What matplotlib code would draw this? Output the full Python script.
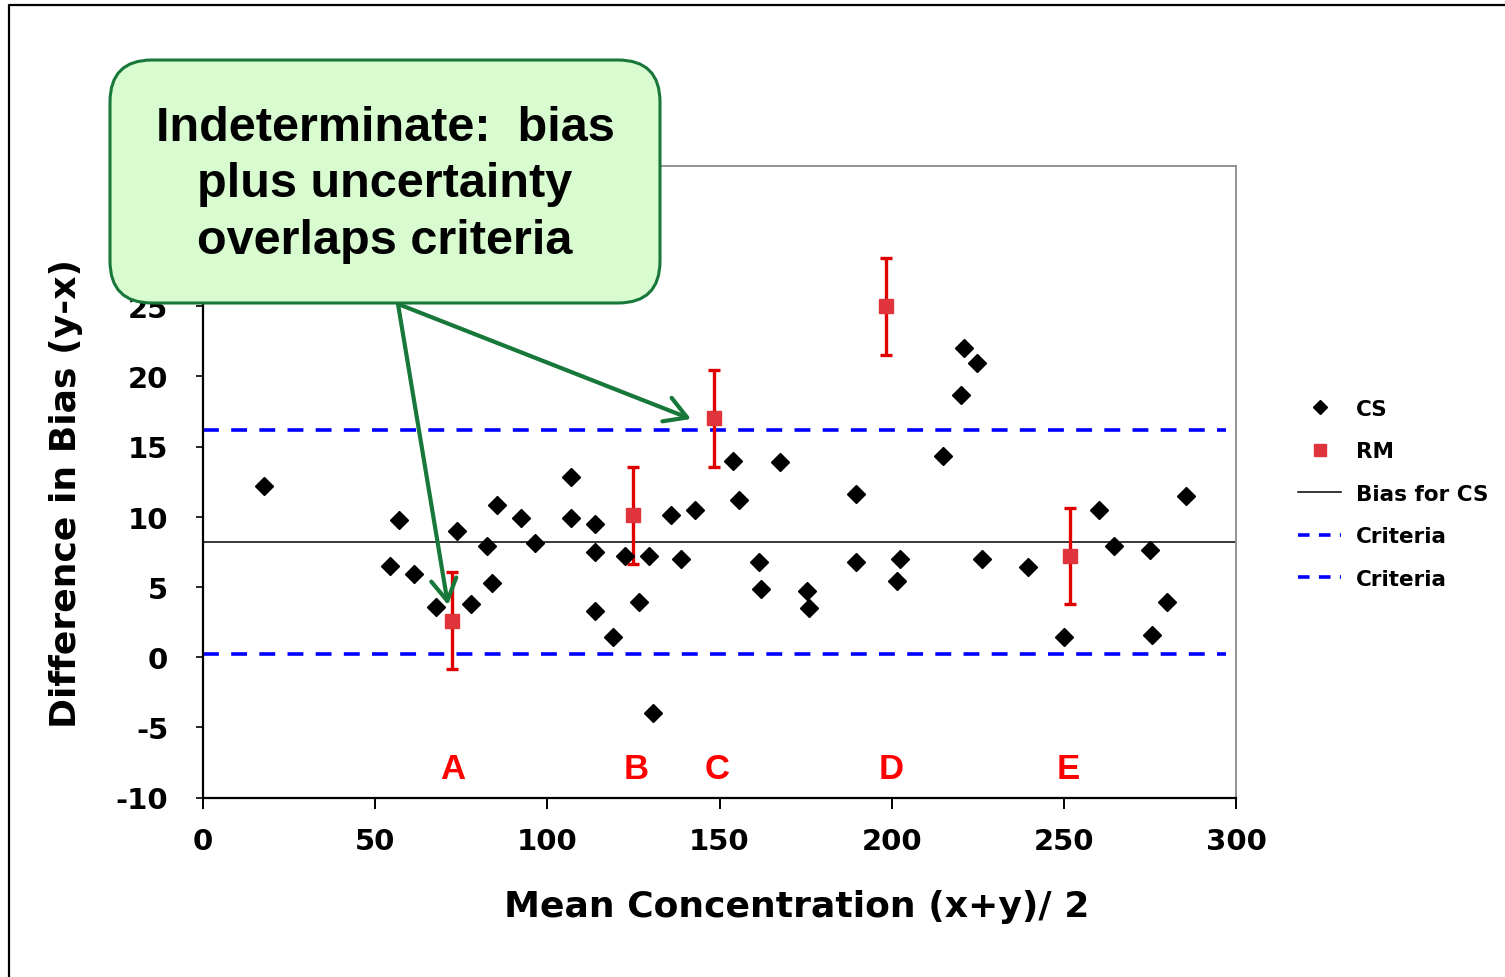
import matplotlib
matplotlib.use("Agg")
import matplotlib.pyplot as plt
from matplotlib import font_manager
from matplotlib.patches import FancyBboxPatch, FancyArrowPatch
from matplotlib.lines import Line2D
import matplotlib.transforms as mtransforms

# ---------------- data ----------------
cs_x = [17.7, 54.3, 57.0, 61.3, 67.7, 73.9, 77.9, 82.6, 83.9, 85.5,
        92.4, 96.5, 107.0, 107.0, 113.9, 113.9, 113.9, 119.0, 122.7, 126.5,
        129.5, 130.6, 135.8, 138.7, 142.8, 153.8, 155.7, 161.6, 162.0, 167.6,
        175.3, 175.9, 189.7, 189.7, 201.5, 202.4, 214.8, 220.1, 221.0, 224.7,
        226.3, 239.7, 250.0, 260.3, 264.5, 275.0, 275.5, 280.1, 285.4]
cs_y = [12.2, 6.5, 9.8, 5.9, 3.6, 9.0, 3.8, 7.9, 5.3, 10.8,
        9.9, 8.1, 12.8, 9.9, 9.5, 7.5, 3.3, 1.45, 7.2, 3.95,
        7.2, -3.95, 10.1, 7.0, 10.5, 14.0, 11.2, 6.8, 4.85, 13.9,
        4.7, 3.5, 11.6, 6.8, 5.4, 7.0, 14.3, 18.7, 22.0, 20.95,
        7.0, 6.4, 1.4, 10.5, 7.9, 7.6, 1.6, 3.95, 11.5]

rm_x = [72.3, 124.9, 148.4, 198.4, 251.8]
rm_y = [2.6, 10.1, 17.0, 25.0, 7.2]
rm_err = [3.45, 3.45, 3.45, 3.45, 3.45]

point_labels = ["A", "B", "C", "D", "E"]
point_label_x = [72.5, 125.8, 149.3, 199.8, 251.2]
point_label_y = -7.9

bias_cs = 8.2
criteria_low = 0.2
criteria_high = 16.2

x_ticks = [0, 50, 100, 150, 200, 250, 300]
y_ticks = [-10, -5, 0, 5, 10, 15, 20, 25, 30, 35]

legend_labels = ["CS", "RM", "Bias for CS", "Criteria", "Criteria"]
x_label = "Mean Concentration (x+y)/ 2"
y_label = "Difference in Bias (y-x)"
callout_text = "Indeterminate:  bias\nplus uncertainty\noverlaps criteria"

# ---------------- fonts ----------------
available = {f.name for f in font_manager.fontManager.ttflist}
callout_font = "Liberation Sans Narrow" if "Liberation Sans Narrow" in available else "Liberation Sans"
main_font = "DejaVu Sans"

# ---------------- figure ----------------
W, H = 1505, 978
fig = plt.figure(figsize=(W / 100, H / 100), dpi=100)
px = mtransforms.Affine2D().scale(1, -1).translate(0, H)  # image pixel coords (y down)

ax_left, ax_right, ax_top, ax_bottom = 203, 1236, 166.7, 798.5
ax = fig.add_axes([ax_left / W, (H - ax_bottom) / H,
                   (ax_right - ax_left) / W, (ax_bottom - ax_top) / H])

ax.set_xlim(0, 300)
ax.set_ylim(-10, 35)

# criteria and bias lines
ax.plot([0, 297], [criteria_high, criteria_high], color="#0000ff", lw=2.6,
        linestyle=(0, (4.4, 3.4)), zorder=2)
ax.plot([0, 297], [criteria_low, criteria_low], color="#0000ff", lw=2.6,
        linestyle=(0, (4.4, 3.4)), zorder=2)
ax.axhline(bias_cs, color="black", lw=1.1, zorder=2)

# CS points
ax.plot(cs_x, cs_y, linestyle="none", marker="D", markersize=9.6,
        color="black", zorder=4)

# RM points with error bars
ax.errorbar(rm_x, rm_y, yerr=rm_err, fmt="none", ecolor="#e00000",
            elinewidth=2.4, capsize=4.6, capthick=2.4, zorder=3)
ax.plot(rm_x, rm_y, linestyle="none", marker="s", markersize=10,
        color="#e0333b", zorder=5)

for lab, lx in zip(point_labels, point_label_x):
    ax.text(lx, point_label_y, lab, color="#ff0000", fontsize=25,
            fontweight="bold", family="Liberation Sans",
            ha="center", va="center", zorder=5)

# axes styling
ax.set_xticks(x_ticks)
ax.set_yticks(y_ticks)
ax.set_xticklabels([str(v) for v in x_ticks], fontsize=21, fontweight="bold",
                   family=main_font)
ax.set_yticklabels([str(v) for v in y_ticks], fontsize=21, fontweight="bold",
                   family=main_font)
# ticks 30 and 35 lie under the callout box in the reference
for v, lbl in zip(y_ticks, ax.get_yticklabels()):
    if v > 25:
        lbl.set_visible(False)
ax.tick_params(axis="x", direction="out", length=8, width=1.4, pad=13)
ax.tick_params(axis="y", direction="out", length=5, width=1.2, pad=20)
for s in ["left", "bottom"]:
    ax.spines[s].set_color("black")
    ax.spines[s].set_linewidth(1.6)
for s in ["top", "right"]:
    ax.spines[s].set_color("#8a8a8a")
    ax.spines[s].set_linewidth(1.3)

ax.set_xlabel(x_label, fontsize=26, fontweight="bold", family=main_font, va="center")
ax.set_ylabel(y_label, fontsize=26, fontweight="bold", family=main_font, va="center")
ax.xaxis.set_label_coords((797 - ax_left) / (ax_right - ax_left),
                          (ax_bottom - 907) / (ax_bottom - ax_top))
ax.yaxis.set_label_coords((66 - ax_left) / (ax_right - ax_left),
                          (ax_bottom - 493) / (ax_bottom - ax_top))

# legend
handles = [
    Line2D([], [], linestyle="none", marker="D", markersize=7.5, color="black"),
    Line2D([], [], linestyle="none", marker="s", markersize=9, color="#e0333b"),
    Line2D([], [], color="black", lw=1.1),
    Line2D([], [], color="#0000ff", lw=2.6, linestyle=(0, (3.2, 2.6))),
    Line2D([], [], color="#0000ff", lw=2.6, linestyle=(0, (3.2, 2.6))),
]
leg = fig.legend(handles, legend_labels, loc="upper left",
                 bbox_to_anchor=(1298 / W, (H - 400) / H),
                 frameon=False, borderpad=0, borderaxespad=0,
                 handlelength=2.0, handletextpad=0.7, labelspacing=1.04,
                 prop={"family": main_font, "weight": "bold", "size": 15.5})

# outer frame
fig.add_artist(Line2D([8.5, 8.5, W + 10], [H + 10, 5.5, 5.5], transform=px,
                      color="black", lw=1.6, zorder=1))

# callout arrows
green = "#17783a"
start = (398, 305)
for tip in [(448, 606), (691, 420)]:
    arr = FancyArrowPatch(posA=start, posB=tip, transform=px,
                          arrowstyle="->,head_length=0.6,head_width=0.35",
                          mutation_scale=26, color=green, lw=3.0,
                          shrinkA=0, shrinkB=0, zorder=6)
    fig.add_artist(arr)

# callout box
box = FancyBboxPatch((110, 61), 550, 243, transform=px,
                     boxstyle="round,pad=0,rounding_size=42",
                     facecolor="#d8fbd0", edgecolor=green, lw=2.2, zorder=7)
fig.add_artist(box)
fig.text(385, 185, callout_text, transform=px, ha="center", va="center",
         multialignment="center", fontsize=35, fontweight="bold",
         family=callout_font, linespacing=1.34, color="black", zorder=8)

fig.savefig("out.png", dpi=100)
